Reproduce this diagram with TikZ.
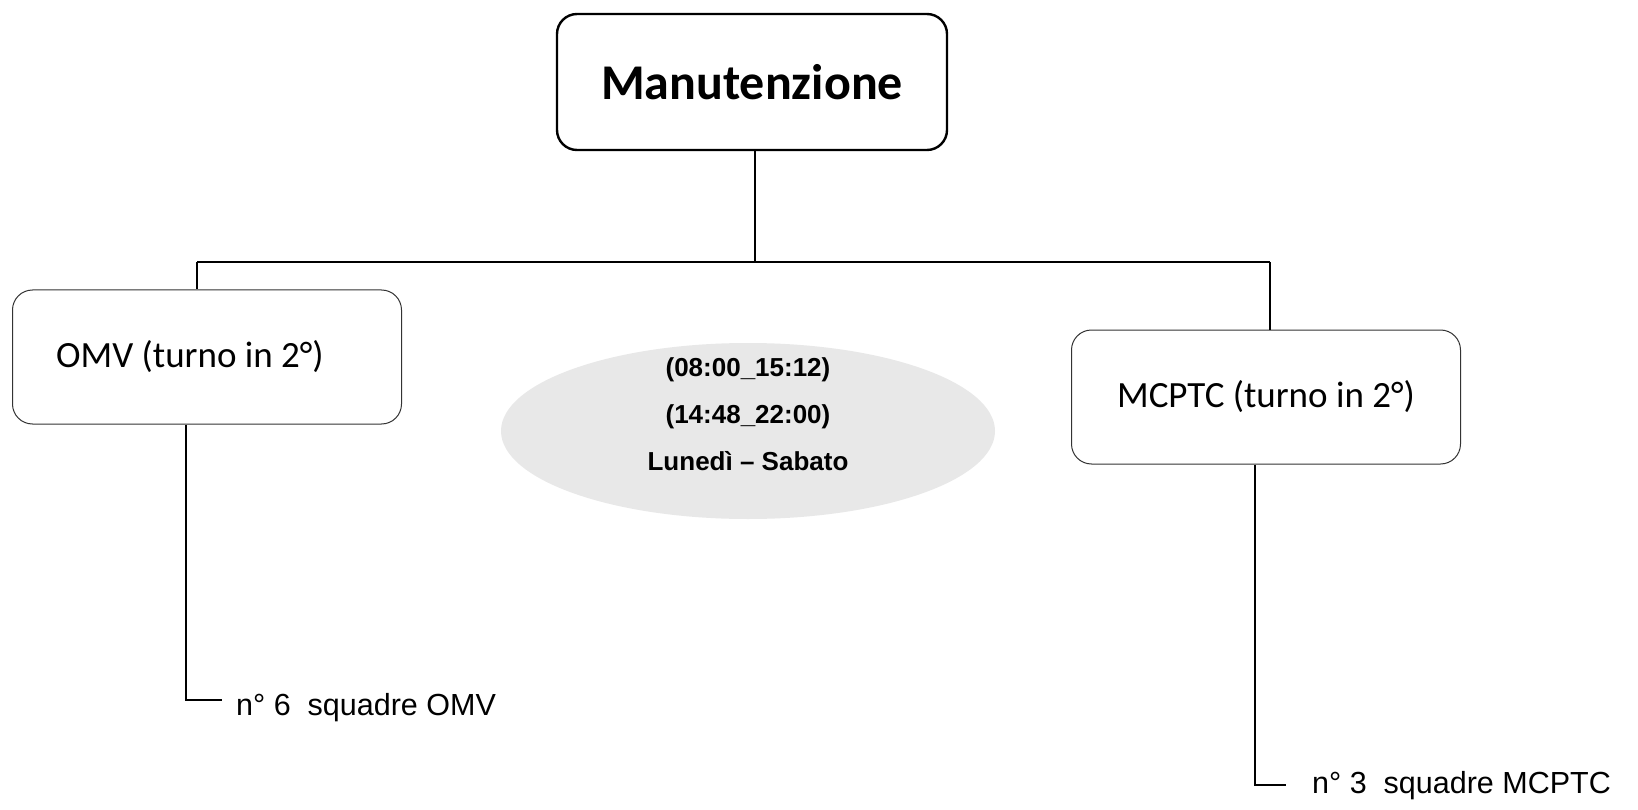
\documentclass[tikz,border=0pt]{standalone}
\usepackage{fontspec}
\setmainfont{Carlito}
\newfontfamily\arialfont{Liberation Sans}
\usetikzlibrary{shapes.geometric}
\tikzset{
  topbox/.style={draw=black, line width=2.4pt, rounded corners=20pt, minimum width=390pt, minimum height=136pt, inner sep=0pt, font=\fontsize{50}{60}\selectfont\bfseries},
  unitbox/.style={draw=black!80, line width=1pt, rounded corners=20pt, minimum width=389pt, minimum height=134pt, inner sep=0pt, font=\fontsize{37}{44}\selectfont},
  link/.style={draw=black, line width=1.6pt},
  leaf/.style={anchor=base west, inner sep=0pt, font=\arialfont\fontsize{30.5}{36}\selectfont},
  hoursbg/.style={ellipse, fill=black!9, draw=none, minimum width=494pt, minimum height=176pt, inner sep=0pt},
  hourstxt/.style={align=center, inner sep=0pt, font=\arialfont\bfseries\fontsize{26}{47}\selectfont}
}
\begin{document}
\begin{tikzpicture}[x=1pt,y=-1pt]
\useasboundingbox[fill=white] (0,0) rectangle (1638,810);
% ellipse with hours
\node[hoursbg] (hours) at (748,431) {};
\node[hourstxt, anchor=base] (hourstext) at (748,470) {(08:00\_15:12)\\(14:48\_22:00)\\Lunedì – Sabato};
% boxes
\node[topbox] (top) at (752,82) {Manutenzione};
\node[unitbox] (omv) at (207,357) {OMV (turno in 2°)\kern34pt};
\node[unitbox] (mcptc) at (1266,397) {MCPTC (turno in 2°)};
% bus
\coordinate (busmid) at (755,262);
\coordinate (busl) at (197,262);
\coordinate (busr) at (1270,262);
\draw[link] (top.south -| busmid) -- (busmid);
\draw[link] (busl) -- (busr);
\draw[link] (busl) -- (busl |- omv.north);
\draw[link] (busr) -- (busr |- mcptc.north);
% leaves
\node[leaf] (omvleaf) at (236,715) {n° 6\ \ squadre OMV};
\node[leaf] (mcptcleaf) at (1312,793) {n° 3\ \ squadre MCPTC};
\coordinate (omvcorner) at (186,700);
\coordinate (omvend) at (222,700);
\coordinate (mccorner) at (1255,785);
\coordinate (mcend) at (1286,785);
\draw[link] (omvcorner |- omv.south) -- (omvcorner) -- (omvend);
\draw[link] (mccorner |- mcptc.south) -- (mccorner) -- (mcend);
\end{tikzpicture}
\end{document}
